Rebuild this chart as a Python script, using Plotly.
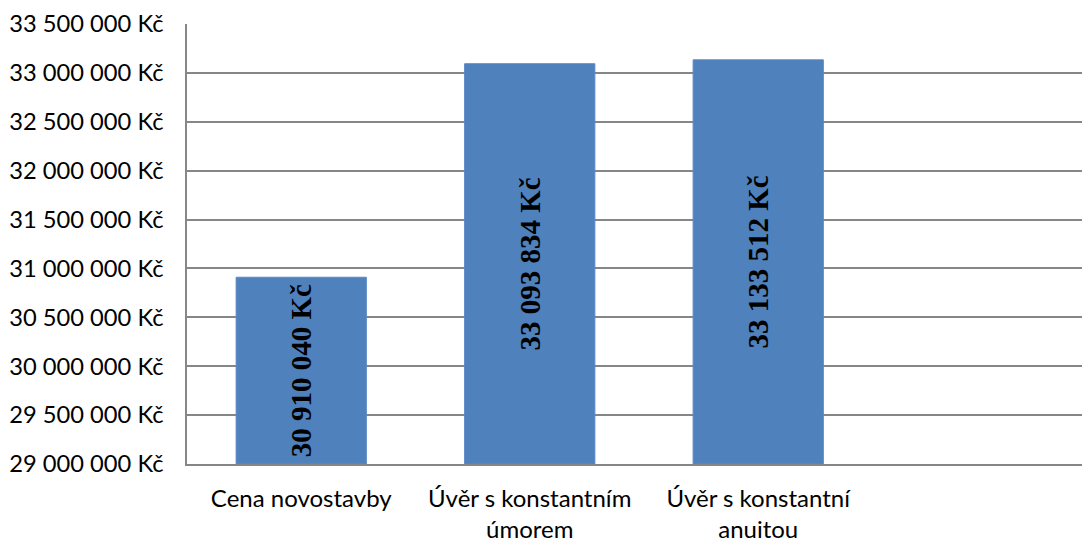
import plotly.graph_objects as go

categories = ["Cena novostavby", "Úvěr s konstantním<br>úmorem", "Úvěr s konstantní<br>anuitou", " "]
values = [30910040, 33093834, 33133512, None]
y_min = 29000000
y_max = 33500000
y_step = 500000

def fmt(v):
    return f"{v:,}".replace(",", " ") + " Kč"

bar_len = [v - y_min if v is not None else None for v in values]
labels = [fmt(v) if v is not None else "" for v in values]

fig = go.Figure()
fig.add_trace(go.Bar(
    x=categories,
    y=bar_len,
    base=y_min,
    width=0.57,
    marker=dict(color="#4F81BD", line=dict(color="#5A8AC6", width=1)),
    text=labels,
    textposition="inside",
    insidetextanchor="middle",
    textangle=-90,
    constraintext="none",
    textfont=dict(family="Liberation Serif", size=29, color="black", weight="bold"),
    hoverinfo="skip",
))

fig.update_layout(
    width=1090, height=542,
    margin=dict(l=179, r=0, t=16, b=86),
    paper_bgcolor="white", plot_bgcolor="white",
    showlegend=False,
    separators=", ",
    font=dict(family="Lato", size=24, color="black"),
)
fig.update_yaxes(
    range=[y_min, y_max], dtick=y_step, tick0=y_min,
    tickformat=",d", ticksuffix=" Kč",
    showgrid=True, gridcolor="#868686", gridwidth=1.5,
    showline=True, linecolor="#868686", linewidth=1.5,
    ticks="", ticklabelstandoff=17,
    tickfont=dict(family="Lato", size=23.7, color="black"),
    zeroline=False,
)
fig.update_xaxes(
    type="category", range=[-0.5, 3.487],
    showline=True, linecolor="#868686", linewidth=1.5,
    showgrid=False, ticks="", ticklabelstandoff=12,
    tickfont=dict(family="Lato", size=24, color="black"),
)

fig.write_html("out.html")
